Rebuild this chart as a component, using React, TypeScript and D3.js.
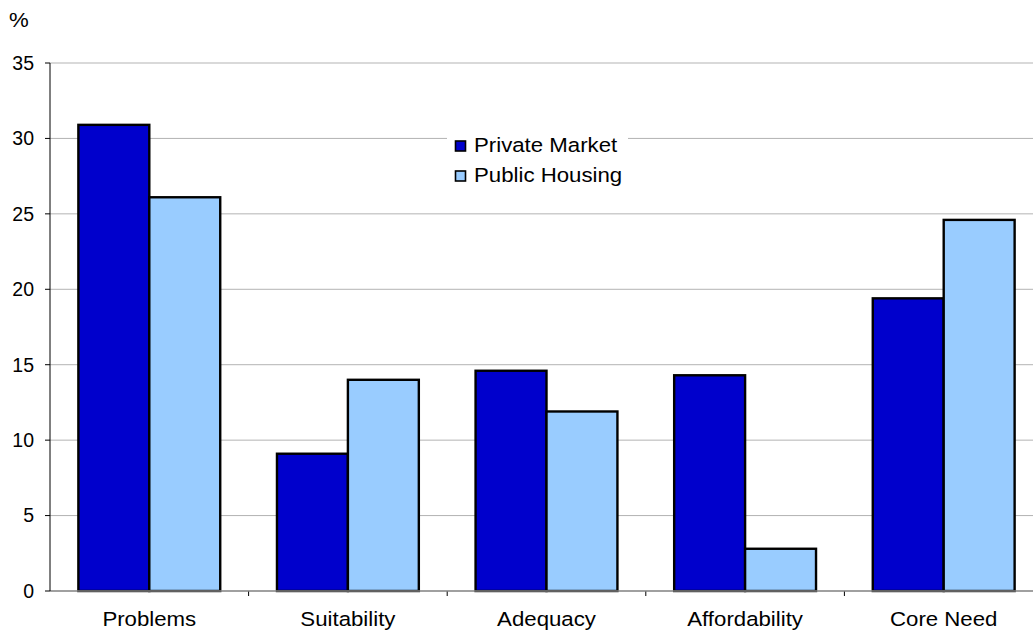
import React from "react";
import * as d3 from "d3";

const categories = ["Problems", "Suitability", "Adequacy", "Affordability", "Core Need"];
const seriesNames = ["Private Market", "Public Housing"];
const privateMarket = [30.9, 9.1, 14.6, 14.3, 19.4];
const publicHousing = [26.1, 14.0, 11.9, 2.8, 24.6];
const yTicks = [0, 5, 10, 15, 20, 25, 30, 35];
const colors = ["#0000CC", "#99CCFF"];

const SX = 1.14;
function T({ x, y, anchor = "start", children }: { x: number; y: number; anchor?: string; children: React.ReactNode }) {
  return (
    <g transform={`translate(${x},${y}) scale(${SX},1)`}>
      <text x={0} y={0} textAnchor={anchor as any} fontSize={19.5}>{children}</text>
    </g>
  );
}

export default function App() {
  const W = 1033, H = 630;
  const left = 50, right = 1043, top = 63, bottom = 591;
  const x = d3.scaleBand<string>().domain(categories).range([left, right]).paddingInner(0).paddingOuter(0);
  const y = d3.scaleLinear().domain([0, 35]).range([bottom, top]);
  const inner = d3.scaleBand<string>().domain(seriesNames).range([0, x.bandwidth()]).paddingOuter(0.4).paddingInner(0);
  const series = [privateMarket, publicHousing];
  const font = "'Liberation Sans', Arial, sans-serif";
  return (
    <svg width={W} height={H} style={{ position: "absolute", left: 0, top: 0, background: "#fff" }} fontFamily={font}>
      <rect x={0} y={0} width={W} height={H} fill="#fff" />
      {yTicks.map((t) => (
        <g key={t}>
          {t > 0 && <line x1={left} x2={W} y1={y(t)} y2={y(t)} stroke="#b3b3b3" strokeWidth={1} />}
          <line x1={left - 5} x2={left} y1={y(t)} y2={y(t)} stroke="#000" />
          <text x={34} y={y(t)} dy="0.35em" textAnchor="end" fontSize={19.5}>{t}</text>
        </g>
      ))}
      <T x={9} y={27}>%</T>
      {categories.map((c, i) => (
        <g key={c}>
          {series.map((s, j) => (
            <rect key={j} x={(x(c) as number) + (inner(seriesNames[j]) as number)} y={y(s[i])}
              width={inner.bandwidth()} height={y(0) - y(s[i])}
              fill={colors[j]} stroke="#000" strokeWidth={2.4} />
          ))}
          <T x={(x(c) as number) + x.bandwidth() / 2} y={626} anchor="middle">{c}</T>
          {i > 0 && <line x1={x(c) as number} x2={x(c) as number} y1={bottom} y2={bottom + 5} stroke="#000" />}
        </g>
      ))}
      <line x1={left} x2={W} y1={bottom} y2={bottom} stroke="#808080" strokeWidth={1.5} />
      <line x1={left} x2={left} y1={top} y2={bottom} stroke="#000" strokeWidth={1} />
      <g>
        <rect x={447} y={125} width={181} height={66} fill="#fff" />
        {seriesNames.map((n, j) => (
          <g key={n}>
            <rect x={455.5} y={141 + j * 30} width={10} height={10} fill={colors[j]} stroke="#000" strokeWidth={1.6} />
            <T x={474} y={152 + j * 30}>{n}</T>
          </g>
        ))}
      </g>
    </svg>
  );
}
